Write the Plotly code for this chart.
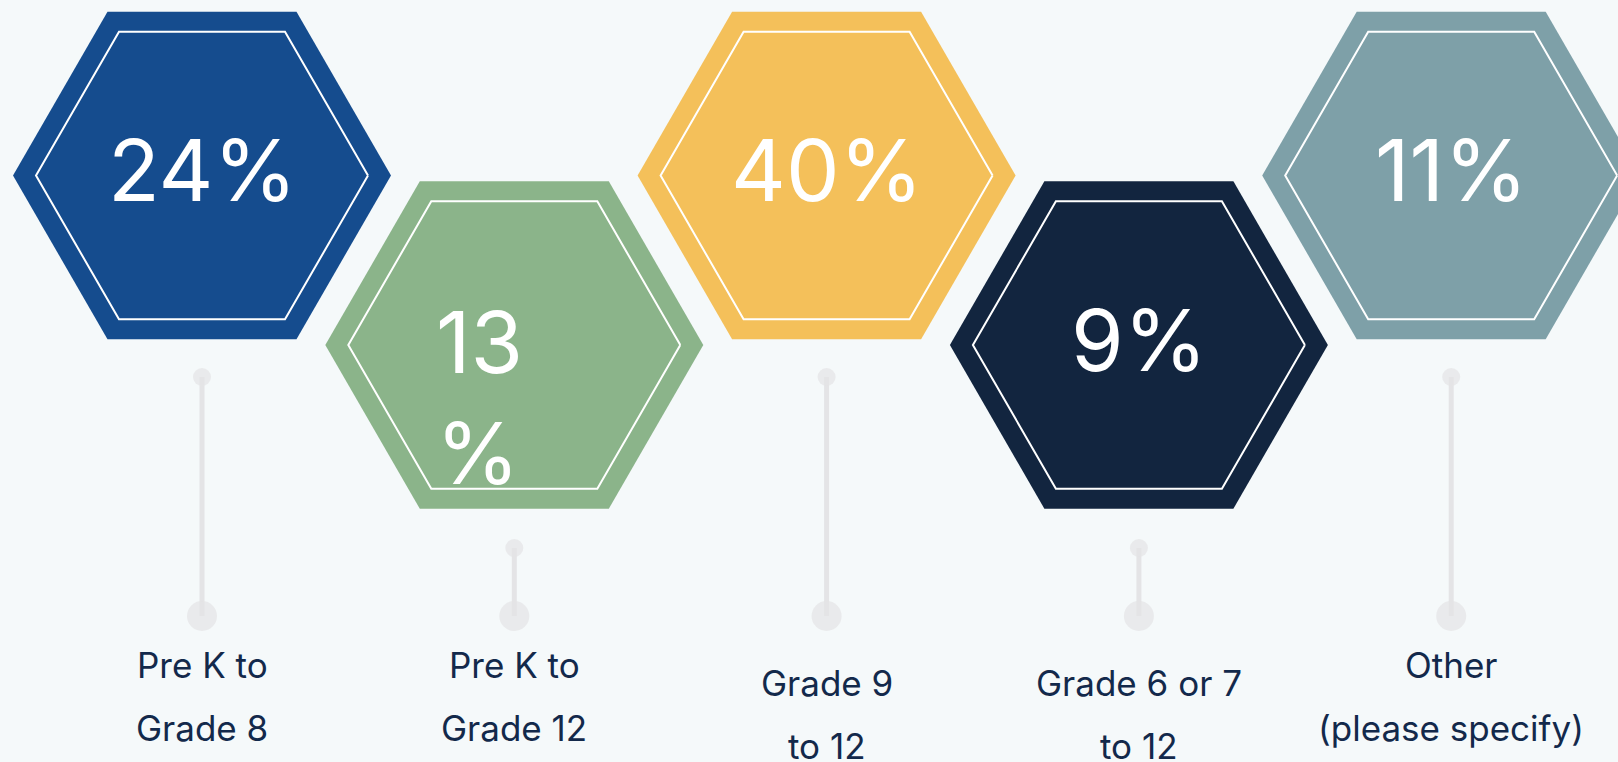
import numpy as np
import plotly.graph_objects as go

# -- dados --
categorias = [
    ["Pre K to", "Grade 8"],
    ["Pre K to", "Grade 12"],
    ["Grade 9", "to 12"],
    ["Grade 6 or 7", "to 12"],
    ["Other", "(please specify)"],
]
percentuais = [24, 13, 40, 9, 11]
cores = ["#154C8E", "#8BB48A", "#F4C05A", "#12253F", "#7EA0A8"]

BG = "#F5F9FA"
TXT = "#13294B"
STEM = "#E4E4E6"
W, H = 1618, 762

# layout em pixels
X0, DX = 202, 312.3
Y_ROW = [175.5, 345]
R_OUT, R_IN = 189, 166


def _hex(cx, cy, r):
    ang = np.deg2rad(np.arange(0, 361, 60))
    return cx + r * np.cos(ang), cy + r * np.sin(ang)


fig = go.Figure()
annots = []

for i, (lab, pct, cor) in enumerate(zip(categorias, percentuais, cores)):
    cx = X0 + i * DX
    cy = Y_ROW[i % 2]

    # haste + bolinhas
    y_top = 377 if i % 2 == 0 else 548
    fig.add_trace(go.Scatter(
        x=[cx, cx], y=[y_top, 616], mode="lines",
        line=dict(color=STEM, width=5), hoverinfo="skip",
    ))
    fig.add_trace(go.Scatter(
        x=[cx, cx], y=[y_top, 616], mode="markers",
        marker=dict(color=STEM, size=[18, 30], line=dict(width=0)), hoverinfo="skip",
    ))

    # hexagonos
    hx, hy = _hex(cx, cy, R_OUT)
    fig.add_trace(go.Scatter(
        x=hx, y=hy, mode="lines", fill="toself", fillcolor=cor,
        line=dict(width=0, color=cor), hoverinfo="skip",
    ))
    ix, iy = _hex(cx, cy, R_IN)
    fig.add_trace(go.Scatter(
        x=ix, y=iy, mode="lines", line=dict(color="white", width=2), hoverinfo="skip",
    ))

    # percentual
    if i == 1:
        # texto quebrado como no original
        annots.append(dict(
            x=cx - 80, y=398, text="{}<br>%".format(pct), showarrow=False,
            xanchor="left", yanchor="middle", align="left",
            font=dict(family="Inter", size=85, color="white"),
        ))
    else:
        annots.append(dict(
            x=cx, y=cy - 5, text="{}%".format(pct), showarrow=False,
            xanchor="center", yanchor="middle",
            font=dict(family="Inter", size=85, color="white"),
        ))

    # rotulos
    y_lab = 683 if i in (2, 3) else 665
    for k, linha in enumerate(lab):
        annots.append(dict(
            x=cx, y=y_lab + k * 62.5, text=linha, showarrow=False,
            xanchor="center", yanchor="middle",
            font=dict(family="Inter", size=35, color=TXT),
        ))

fig.update_layout(
    width=W, height=H,
    paper_bgcolor=BG, plot_bgcolor=BG,
    margin=dict(l=0, r=0, t=0, b=0),
    showlegend=False,
    xaxis=dict(range=[0, W], visible=False, fixedrange=True),
    yaxis=dict(range=[H, 0], visible=False, fixedrange=True),
    annotations=annots,
)

fig.write_html("out.html", config={"displayModeBar": False},
               post_script="document.body.style.margin='0';")
